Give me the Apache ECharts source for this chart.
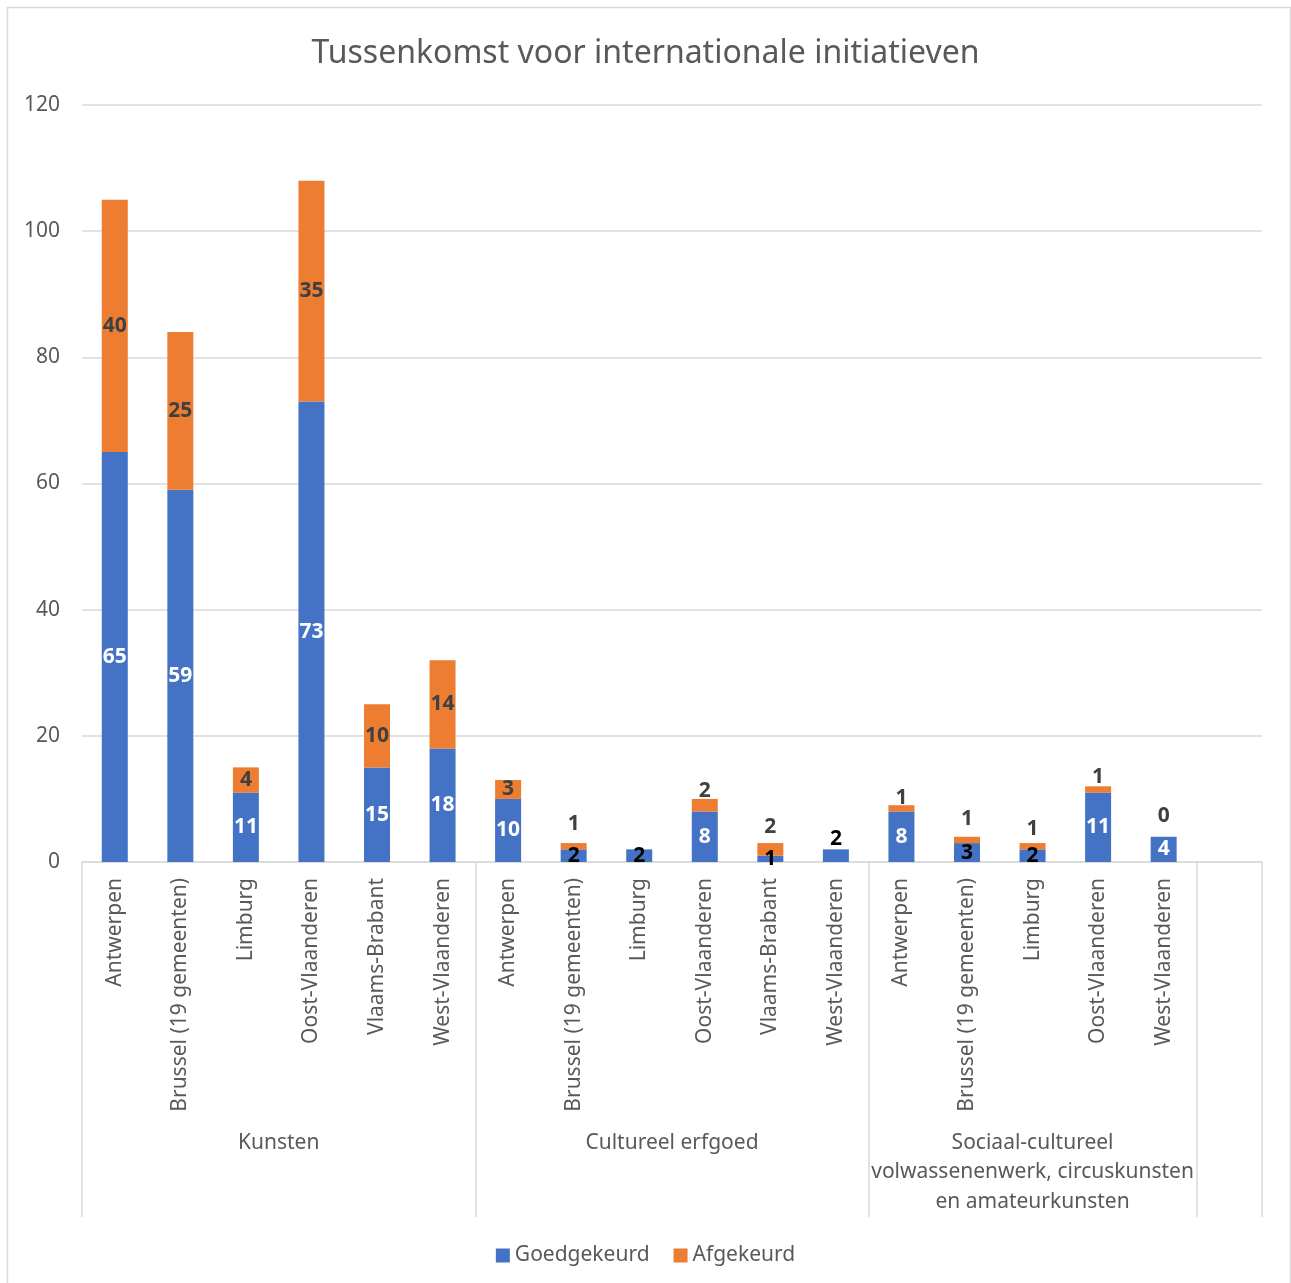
<!DOCTYPE html>
<html><head><meta charset="utf-8">
<script src="https://cdn.jsdelivr.net/npm/echarts@6/dist/echarts.min.js"></script>
<style>html,body{margin:0;padding:0;background:#fff}#c{width:1291px;height:1283px}</style>
</head><body><div id="c"></div>
<script>
const categories = ['Antwerpen','Brussel (19 gemeenten)','Limburg','Oost-Vlaanderen','Vlaams-Brabant','West-Vlaanderen',
  'Antwerpen','Brussel (19 gemeenten)','Limburg','Oost-Vlaanderen','Vlaams-Brabant','West-Vlaanderen',
  'Antwerpen','Brussel (19 gemeenten)','Limburg','Oost-Vlaanderen','West-Vlaanderen',''];
const groups = ['Kunsten','Cultureel erfgoed','Sociaal-cultureel\nvolwassenenwerk, circuskunsten\nen amateurkunsten'];
const groupSizes = [6,6,5];
const goedgekeurd = [65,59,11,73,15,18, 10,2,2,8,1,2, 8,3,2,11,4, null];
const afgekeurd   = [40,25,4,35,10,14, 3,1,null,2,2,null, 1,1,1,1,0, null];
const yTicks = [0,20,40,60,80,100,120];

const FONT = '"Noto Sans", "Open Sans", sans-serif';
const TXT = '#595959';
const GRID = '#d9d9d9';

// group boundaries and centres (derived from the group sizes)
const boundaries = [0];
groupSizes.forEach(s => boundaries.push(boundaries[boundaries.length-1] + s));
boundaries.push(categories.length);
const centers = groupSizes.map((s,i) => boundaries[i] + s/2);

// label styling tweaks (style only)
const darkBlueLabels = {7:'inside',8:'inside',10:'inside',11:'top',13:'inside',14:'inside'};
const blueTopDist = {11:0};
const orangeTopDist = {7:9,9:-3,10:6,12:-3,13:7,14:4,15:-1,16:10};

const blueData = goedgekeurd.map((v,i) => {
  const d = {value:v};
  if (darkBlueLabels[i]) {
    d.label = {color:'#000', position:darkBlueLabels[i]};
    if (blueTopDist[i] !== undefined) d.label.distance = blueTopDist[i];
  }
  return d;
});
const orangeData = afgekeurd.map((v,i) => {
  const d = {value:v};
  if (orangeTopDist[i] !== undefined) d.label = {position:'top', distance:orangeTopDist[i]};
  return d;
});

const chart = echarts.init(document.getElementById('c'));
chart.setOption({
  backgroundColor:'#fff',
  animation:false,
  title:{text:'Tussenkomst voor internationale initiatieven', left:'center', top:33,
    textStyle:{fontFamily:FONT, fontSize:32, fontWeight:'normal', color:TXT}},
  legend:{top:1240, left:'center', icon:'rect', itemWidth:14, itemHeight:14, itemGap:24,
    textStyle:{fontFamily:FONT, fontSize:21, color:TXT}, data:['Goedgekeurd','Afgekeurd']},
  grid:{left:82, right:29, top:105, bottom:421},
  graphic:[{type:'rect', shape:{x:7.5,y:7.5,width:1283,height:1290}, style:{fill:'none', stroke:GRID, lineWidth:1.5}, silent:true, z:-1}],
  xAxis:[
    {type:'category', data:categories, axisLine:{lineStyle:{color:GRID, width:1.5}}, axisTick:{show:false},
     axisLabel:{rotate:90, margin:16, interval:0, color:TXT, fontSize:21, fontFamily:FONT}},
    {type:'value', min:0, max:categories.length, position:'bottom', axisLine:{show:false}, splitLine:{show:false},
     axisTick:{show:true, customValues:boundaries, length:355, lineStyle:{color:GRID, width:1.5}},
     axisLabel:{customValues:centers, formatter:v => groups[centers.indexOf(v)] || '', margin:266, lineHeight:29.5,
       color:TXT, fontSize:21, fontFamily:FONT, align:'center'}}
  ],
  yAxis:{type:'value', min:yTicks[0], max:yTicks[yTicks.length-1], interval:yTicks[1]-yTicks[0],
    axisLine:{show:false}, axisTick:{show:false},
    splitLine:{lineStyle:{color:GRID, width:1.5}},
    axisLabel:{margin:22, color:TXT, fontSize:21, fontFamily:FONT}},
  series:[
    {name:'Goedgekeurd', type:'bar', stack:'t', barWidth:26, data:blueData,
     itemStyle:{color:'#4472C4'},
     label:{show:true, position:'inside', color:'#fff', fontWeight:'bold', fontSize:21, fontFamily:FONT}},
    {name:'Afgekeurd', type:'bar', stack:'t', barWidth:26, data:orangeData,
     itemStyle:{color:'#ED7D31'},
     label:{show:true, position:'inside', color:'#404040', fontWeight:'bold', fontSize:21, fontFamily:FONT}}
  ]
});
</script></body></html>
